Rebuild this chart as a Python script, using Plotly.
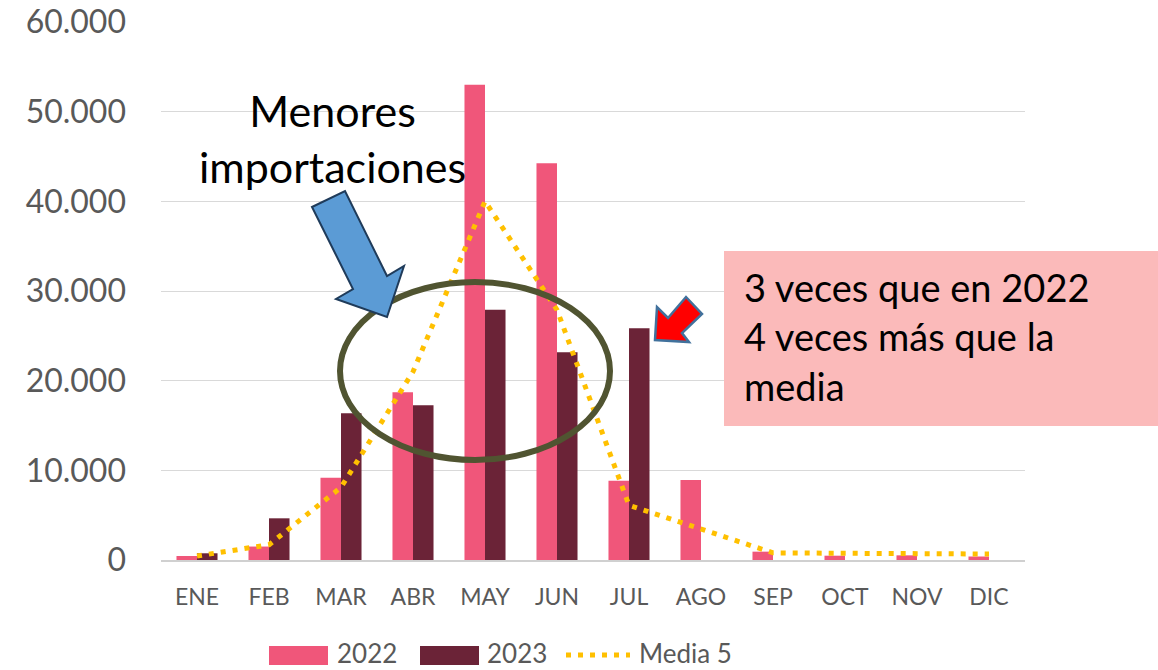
import plotly.graph_objects as go

months = ["ENE", "FEB", "MAR", "ABR", "MAY", "JUN", "JUL", "AGO", "SEP", "OCT", "NOV", "DIC"]
v2022 = [450, 1500, 9180, 18700, 53000, 44250, 8850, 8920, 930, 480, 520, 390]
v2023 = [750, 4650, 16360, 17250, 27900, 23160, 25840, None, None, None, None, None]
media5 = [450, 1700, 8100, 21000, 40000, 27900, 6100, 3500, 800, 750, 750, 670]

y_ticks = [0, 10000, 20000, 30000, 40000, 50000, 60000]

FONT = "Lato"
C2022, C2023, CMED = "#F0567A", "#6B2337", "#FFC000"
W, H = 1158, 670
# plot area in screen pixels
L, R, T, B = 161, 1025, 22, 560


def px(x):
    return (x - L) / (R - L)


def py(y):
    return (B - y) / (B - T)


def poly(points):
    return "M " + " L ".join(f"{px(x):.5f},{py(y):.5f}" for x, y in points) + " Z"


fig = go.Figure()
fig.add_trace(go.Bar(x=months, y=v2022, name="2022", marker=dict(color=C2022, line=dict(width=0))))
fig.add_trace(go.Bar(x=months, y=v2023, name="2023", marker=dict(color=C2023, line=dict(width=0))))
fig.add_trace(go.Scatter(x=months, y=media5, name="Media 5", mode="lines",
                         line=dict(color=CMED, width=5, dash="5px,7px")))

shapes = []
# ellipse
shapes.append(dict(type="circle", xref="paper", yref="paper",
                   x0=px(340), x1=px(610), y0=py(282), y1=py(460),
                   line=dict(color="#505431", width=6), fillcolor="rgba(0,0,0,0)", layer="above"))
# blue arrow
shapes.append(dict(type="path", xref="paper", yref="paper",
                   path=poly([(312, 207), (345, 191), (387, 276), (404, 266), (387, 317), (336, 299), (353, 289)]),
                   fillcolor="#5B9BD5", line=dict(color="#1F3B5A", width=2), layer="above"))
# red arrow
shapes.append(dict(type="path", xref="paper", yref="paper",
                   path=poly([(655, 340), (657, 307), (668, 318), (686, 297), (702, 314), (682, 333), (689, 342)]),
                   fillcolor="#FF0000", line=dict(color="#41719C", width=2.5), layer="above"))
# pink box
shapes.append(dict(type="rect", xref="paper", yref="paper",
                   x0=px(724), x1=px(1160), y0=py(251), y1=py(426),
                   fillcolor="#FBBABA", line=dict(width=0), layer="above"))

# custom legend symbols
shapes.append(dict(type="rect", xref="paper", yref="paper", x0=px(269), x1=px(328), y0=py(646), y1=py(665),
                   fillcolor=C2022, line=dict(width=0)))
shapes.append(dict(type="rect", xref="paper", yref="paper", x0=px(420), x1=px(479), y0=py(646), y1=py(665),
                   fillcolor=C2023, line=dict(width=0)))
shapes.append(dict(type="line", xref="paper", yref="paper", x0=px(566), x1=px(630), y0=py(655), y1=py(655),
                   line=dict(color=CMED, width=5, dash="5px,7px")))

annotations = [
    dict(xref="paper", yref="paper", x=px(332), y=py(138), text="Menores<br>importaciones",
         showarrow=False, font=dict(family=FONT, size=43, color="black"), align="center",
         xanchor="center", yanchor="middle"),
    dict(xref="paper", yref="paper", x=px(742), y=py(336), text="3 veces que en 2022<br>4 veces más que la<br>media",
         showarrow=False, font=dict(family=FONT, size=38, color="black"), align="left",
         xanchor="left", yanchor="middle"),
]
for lx, txt in [(335, "2022"), (485, "2023"), (637, "Media 5")]:
    annotations.append(dict(xref="paper", yref="paper", x=px(lx), y=py(653), text=txt, showarrow=False,
                            font=dict(family=FONT, size=26, color="#595959"), xanchor="left", yanchor="middle"))

fig.update_layout(
    width=W, height=H,
    margin=dict(l=L, r=W - R, t=T, b=H - B, pad=0, autoexpand=False),
    paper_bgcolor="white", plot_bgcolor="white",
    separators=",.",
    barmode="group", bargap=0.43, bargroupgap=0,
    font=dict(family=FONT, color="#595959"),
    shapes=shapes, annotations=annotations,
    showlegend=False,
)
fig.update_xaxes(showgrid=False, showline=True, linecolor="#D0D0D0", linewidth=2,
                 ticks="", tickfont=dict(family=FONT, size=23, color="#595959"),
                 ticklabelstandoff=15, automargin=False)
fig.update_yaxes(range=[0, 60000], tickvals=y_ticks, tickformat=",d", showgrid=True,
                 gridcolor="#D9D9D9", gridwidth=1.3, zeroline=False, showline=False, ticks="",
                 tickfont=dict(family=FONT, size=32, color="#595959"), ticklabelstandoff=34,
                 automargin=False)

fig.write_html("out.html", config={"displayModeBar": False},
               post_script="document.body.style.margin='0';document.body.style.overflow='hidden';")
